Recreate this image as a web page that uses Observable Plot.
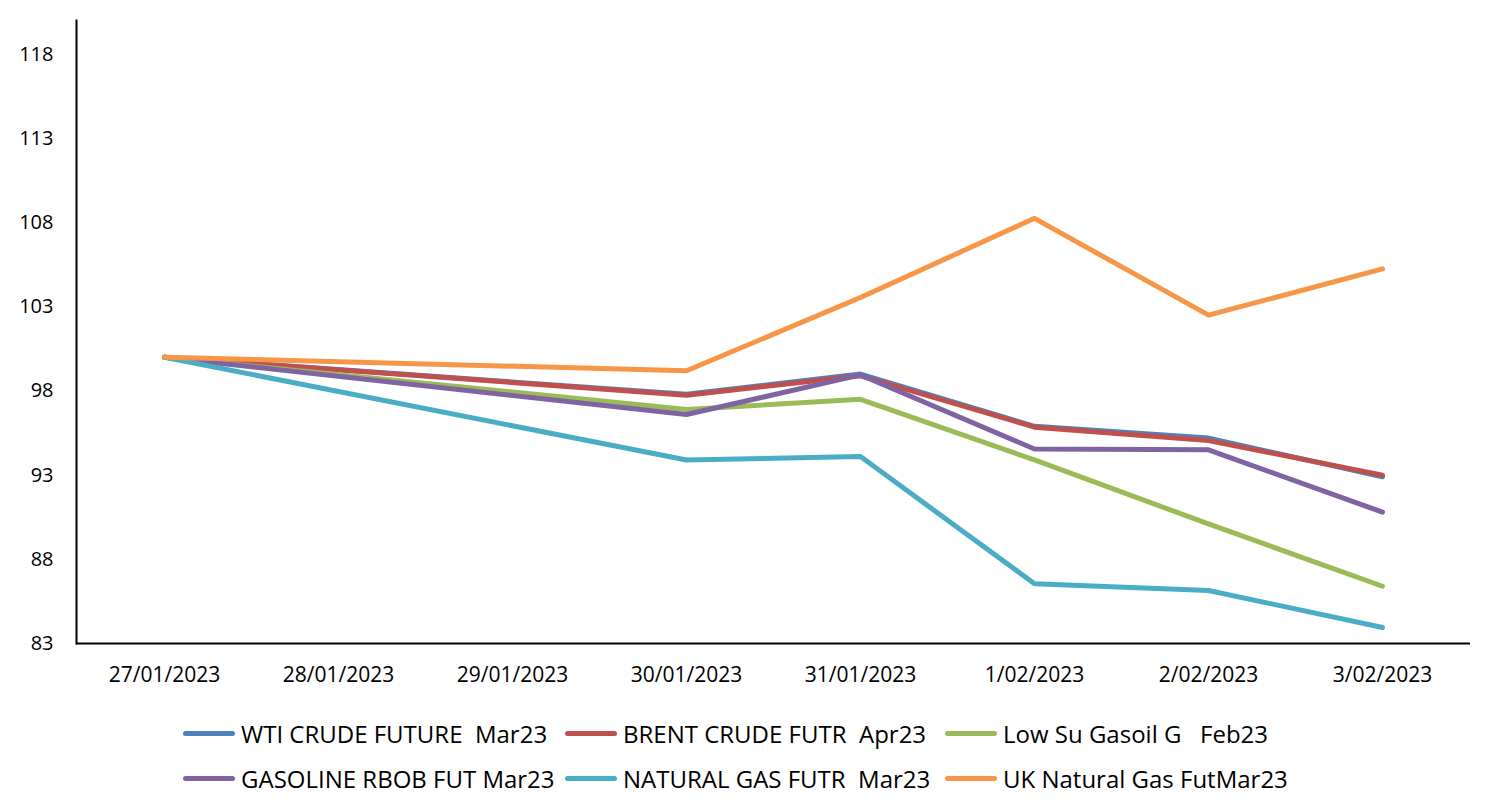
<!DOCTYPE html>
<html>
<head>
<meta charset="utf-8">
<script src="https://cdn.jsdelivr.net/npm/d3@7"></script>
<script src="https://cdn.jsdelivr.net/npm/@observablehq/plot@0.6"></script>
<style>
  body { margin: 0; background: #fff; font-family: "Open Sans", sans-serif; }
  #legend { position: relative; width: 1495px; height: 110px; }
  .item { position: absolute; display: flex; align-items: center; height: 40px; }
  .sw { width: 52px; height: 5px; border-radius: 3px; margin-right: 6px; }
  .lab { font-size: 24px; color: #000; white-space: pre; letter-spacing: 0px; }
</style>
</head>
<body>
<div id="chart"></div>
<div id="legend"></div>
<script>
const tickLabels = ["27/01/2023", "28/01/2023", "29/01/2023", "30/01/2023", "31/01/2023", "1/02/2023", "2/02/2023", "3/02/2023"];
const tradeDates = ["27/01/2023", "30/01/2023", "31/01/2023", "1/02/2023", "2/02/2023", "3/02/2023"];
const seriesNames = ["WTI CRUDE FUTURE  Mar23", "BRENT CRUDE FUTR  Apr23", "Low Su Gasoil G   Feb23", "GASOLINE RBOB FUT Mar23", "NATURAL GAS FUTR  Mar23", "UK Natural Gas FutMar23"];
const seriesColors = ["#4F81BD", "#C0504D", "#9BBB59", "#8064A2", "#4BACC6", "#F79646"];
const wti    = [100, 97.8, 99.0, 95.9, 95.2, 92.9];
const brent  = [100, 97.75, 98.9, 95.85, 95.05, 93.0];
const gasoil = [100, 96.9, 97.5, 93.9, 90.1, 86.4];
const rbob   = [100, 96.6, 98.95, 94.55, 94.5, 90.8];
const natgas = [100, 93.9, 94.1, 86.55, 86.15, 83.95];
const ukgas  = [100, 99.2, 103.55, 108.25, 102.5, 105.25];
const yTicks = [83, 88, 93, 98, 103, 108, 113, 118];

const seriesValues = [wti, brent, gasoil, rbob, natgas, ukgas];
const rows = [];
seriesNames.forEach((name, i) => {
  tradeDates.forEach((d, j) => rows.push({series: name, date: d, value: seriesValues[i][j]}));
});

const chart = Plot.plot({
  width: 1495,
  height: 700,
  marginLeft: 76,
  marginRight: 25,
  marginTop: 20,
  marginBottom: 57,
  style: {fontFamily: "Open Sans", color: "#000", background: "#fff"},
  x: {type: "point", domain: tickLabels, padding: 0.5, axis: null},
  y: {domain: [83, 120], axis: null},
  color: {domain: seriesNames, range: seriesColors},
  marks: [
    Plot.axisX({tickSize: 0, tickPadding: 24, fontSize: 21, label: null}),
    Plot.axisY({ticks: yTicks, tickSize: 0, tickPadding: 23, fontSize: 20, label: null}),
    Plot.line(rows, {x: "date", y: "value", stroke: "series", z: "series", strokeWidth: 5, strokeLinecap: "round", strokeLinejoin: "round"}),
    Plot.ruleY([83], {stroke: "#000", strokeWidth: 2}),
    Plot.frame({anchor: "left", stroke: "#000", strokeWidth: 2})
  ]
});
document.getElementById("chart").appendChild(chart);

const legend = document.getElementById("legend");
const colX = [183, 565, 945];
const rowY = [13, 58];
seriesNames.forEach((name, i) => {
  const item = document.createElement("div");
  item.className = "item";
  item.style.left = colX[i % 3] + "px";
  item.style.top = rowY[Math.floor(i / 3)] + "px";
  const sw = document.createElement("div");
  sw.className = "sw";
  sw.style.background = seriesColors[i];
  const lab = document.createElement("span");
  lab.className = "lab";
  lab.textContent = name;
  item.appendChild(sw);
  item.appendChild(lab);
  legend.appendChild(item);
});
</script>
</body>
</html>
